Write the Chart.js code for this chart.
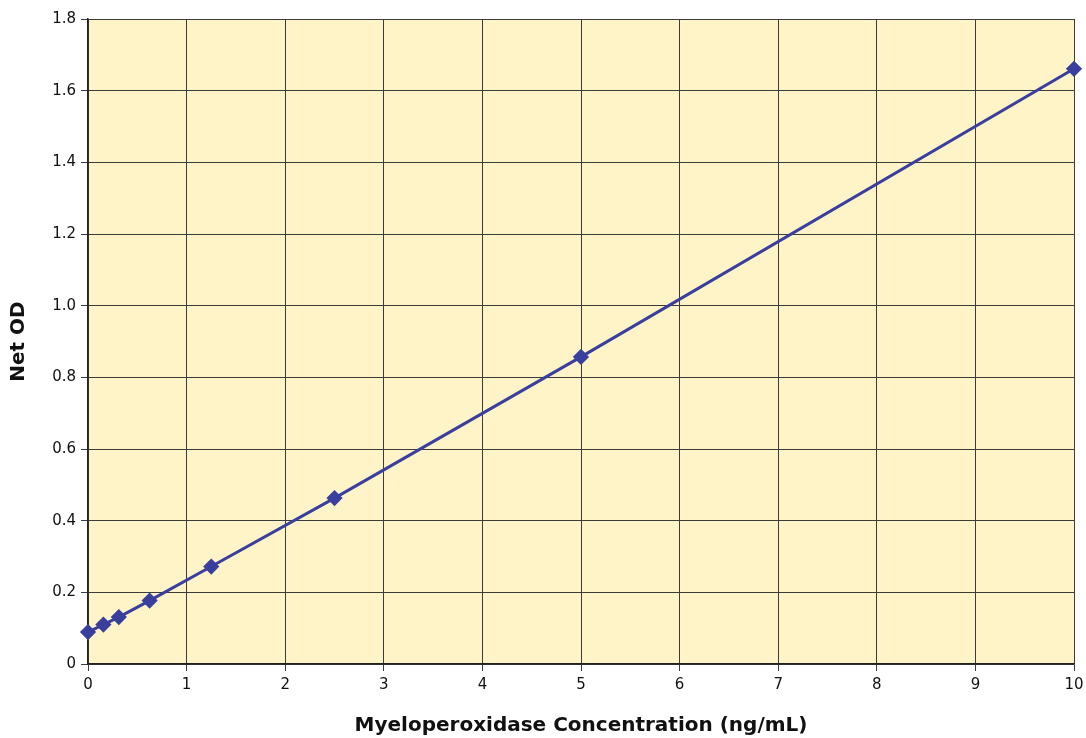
<!DOCTYPE html>
<html>
<head>
<meta charset="utf-8">
<script src="https://cdn.jsdelivr.net/npm/chart.js@4/dist/chart.umd.min.js"></script>
<style>
html,body{margin:0;padding:0;background:#fff;}
#wrap{width:1086px;height:738px;}
</style>
</head>
<body>
<div id="wrap"><canvas id="c" width="1086" height="738"></canvas></div>
<script>
const concentrations = [0, 0.156, 0.3125, 0.625, 1.25, 2.5, 5, 10];
const netOD = [0.089, 0.110, 0.131, 0.177, 0.272, 0.463, 0.857, 1.661];
const xTicks = [0,1,2,3,4,5,6,7,8,9,10];
const yTicks = [0,0.2,0.4,0.6,0.8,1.0,1.2,1.4,1.6,1.8];
const xTitle = 'Myeloperoxidase Concentration (ng/mL)';
const yTitle = 'Net OD';

const bgPlugin = {
  id: 'bg',
  beforeDraw(chart) {
    const {ctx, chartArea: a} = chart;
    ctx.save();
    ctx.fillStyle = '#FFF4C8';
    ctx.fillRect(a.left, a.top, a.right - a.left, a.bottom - a.top);
    ctx.restore();
  }
};

const FONT = "'DejaVu Sans', sans-serif";
const gridColor = '#3c3c3c';

new Chart(document.getElementById('c'), {
  type: 'scatter',
  data: {
    datasets: [{
      data: concentrations.map((x, i) => ({x, y: netOD[i]})),
      showLine: true,
      clip: false,
      borderColor: '#3A3F9E',
      backgroundColor: '#3A3F9E',
      borderWidth: 3,
      pointStyle: 'rectRot',
      pointRadius: 6,
      pointHoverRadius: 6,
      tension: 0
    }]
  },
  options: {
    responsive: false,
    animation: false,
    layout: {padding: {top: 19, right: 12, left: 0, bottom: 0}},
    plugins: {legend: {display: false}, tooltip: {enabled: false}},
    scales: {
      x: {
        type: 'linear', min: 0, max: 10,
        afterBuildTicks(s) { s.ticks = xTicks.map(v => ({value: v})); },
        afterFit(s) { s.height = 74; s.paddingLeft = 0; s.paddingRight = 0; },
        grid: {color: gridColor, lineWidth: 1, tickLength: 7, tickColor: gridColor},
        border: {color: '#222', width: 1.5},
        ticks: {color: '#111', font: {family: FONT, size: 15}, padding: 5,
                callback: v => String(v)},
        title: {display: true, text: xTitle, color: '#111',
                font: {family: FONT, size: 20, weight: 'bold'}, padding: {top: 12, bottom: 0}}
      },
      y: {
        type: 'linear', min: 0, max: 1.8,
        afterBuildTicks(s) { s.ticks = yTicks.map(v => ({value: v})); },
        afterFit(s) { s.width = 88; s.paddingTop = 0; s.paddingBottom = 0; },
        grid: {color: gridColor, lineWidth: 1, tickLength: 7, tickColor: gridColor},
        border: {color: '#222', width: 1.5},
        ticks: {color: '#111', font: {family: FONT, size: 15}, padding: 5,
                callback: v => v === 0 ? '0' : v.toFixed(1)},
        title: {display: true, text: yTitle, color: '#111',
                font: {family: FONT, size: 20, weight: 'bold'}, padding: {top: 7, bottom: 4}}
      }
    }
  },
  plugins: [bgPlugin]
});
</script>
</body>
</html>
